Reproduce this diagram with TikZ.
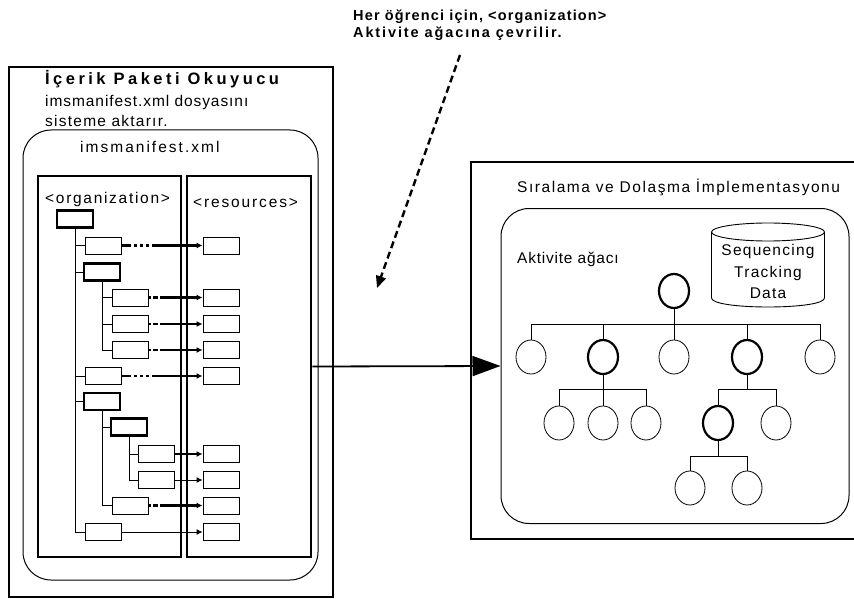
\documentclass[tikz,border=0pt]{standalone}
\usepackage{fontspec}
\setmainfont{Liberation Sans}
\usetikzlibrary{arrows.meta,shapes.geometric}
\newcommand\lsp[1]{\addfontfeatures{LetterSpace=#1}}
\begin{document}
\begin{tikzpicture}[x=1pt,y=-1pt,
 every node/.style={inner sep=0pt},
 txt/.style={anchor=base west, font=\fontsize{15.5}{18}\selectfont},
 ctxt/.style={anchor=base, font=\fontsize{15.5}{18}\selectfont},
 note/.style={anchor=base west, font=\fontsize{14.5}{17}\selectfont\bfseries},
 frame/.style={draw, line width=1.1pt},
 rbox/.style={draw, line width=1pt, rounded corners=28pt},
 thickbox/.style={draw, line width=2.6pt},
 leaf/.style={draw, line width=0.9pt, minimum width=36pt, minimum height=17pt},
 bleaf/.style={leaf, line width=2.3pt},
 tree/.style={line width=0.9pt},
 link/.style={line width=2.3pt, -{Latex[length=6pt,width=6pt]}, dash pattern=on 3pt off 2pt on 5pt off 2pt on 200pt off 1pt},
 dotlink/.style={line width=2.3pt, -{Latex[length=6pt,width=6pt]}, dash pattern=on 10pt off 3pt on 3pt off 3pt on 3pt off 3pt on 3pt off 3pt on 200pt off 1pt},
 thinlink/.style={line width=0.9pt, -{Latex[length=6pt,width=6pt]}},
 act/.style={draw, ellipse, line width=0.8pt, minimum width=30pt, minimum height=34pt},
 bact/.style={act, line width=2.2pt},
 bigarrow/.style={line width=1.8pt, -{Triangle[length=28pt,width=20pt]}},
 dasharrow/.style={line width=2.4pt, dash pattern=on 7pt off 4pt, -{Triangle[length=12pt,width=10pt]}}
]
\useasboundingbox (0,0) rectangle (854,599);

% top note
\node[note] (n1) at (353,21) {\lsp{8}Her öğrenci için, <organization>};
\node[note] (n2) at (353,38) {\lsp{13}Aktivite ağacına çevrilir.};
\coordinate (ds) at (460,55);
\coordinate (de) at (377,288);
\draw[dasharrow] (ds) -- (de);

% left part
\node[frame, minimum width=324pt, minimum height=530pt] (reader) at (171,332) {};
\node[txt, font=\fontsize{16.5}{18}\selectfont\bfseries] (title) at (45,85) {\lsp{21}İçerik Paketi Okuyucu};
\node[txt] (d1) at (45,107) {\lsp{6}imsmanifest.xml dosyasını};
\node[txt] (d2) at (45,127) {\lsp{8}sisteme aktarır.};
\node[rbox, minimum width=295pt, minimum height=450pt] (mfbox) at (170.5,355) {};
\node[txt] (mf) at (80,153) {\lsp{13}imsmanifest.xml};
\node[thickbox, minimum width=143pt, minimum height=381pt] (orgbox) at (109.5,366.5) {};
\node[thickbox, minimum width=124pt, minimum height=381pt] (resbox) at (249,366.5) {};
\node[txt] (orgl) at (45,203) {\lsp{11}<organization>};
\node[txt] (resl) at (193,207) {\lsp{12}<resources>};

% organization tree
\node[bleaf] (r) at (75,219) {};
\node[leaf] (c1) at (103,245.5) {};
\node[bleaf] (c2) at (102,272) {};
\node[leaf] (c21) at (130,297.5) {};
\node[leaf] (c22) at (130,324) {};
\node[leaf] (c23) at (130,350) {};
\node[leaf] (c3) at (103,376) {};
\node[bleaf] (c4) at (102,401.5) {};
\node[bleaf] (c41) at (129,427) {};
\node[leaf] (c411) at (156,454) {};
\node[leaf] (c412) at (156,480) {};
\node[leaf] (c42) at (130,505.5) {};
\node[leaf] (c5) at (103,532) {};
\foreach \c in {c1,c2,c3,c4,c5} \draw[tree] (r.south) |- (\c.west);
\foreach \c in {c21,c22,c23} \draw[tree] (c2.south) |- (\c.west);
\foreach \c in {c41,c42} \draw[tree] (c4.south) |- (\c.west);
\foreach \c in {c411,c412} \draw[tree] (c41.south) |- (\c.west);

% resources
\node[leaf] (s1) at (221,245.5) {};
\node[leaf] (s2) at (221,297.5) {};
\node[leaf] (s3) at (221,324) {};
\node[leaf] (s4) at (221,350) {};
\node[leaf] (s5) at (221,376) {};
\node[leaf] (s6) at (221,454) {};
\node[leaf] (s7) at (221,480) {};
\node[leaf] (s8) at (221,505.5) {};
\node[leaf] (s9) at (221,532) {};
\draw[dotlink] (c1.east) -- (s1.west);
\draw[link] (c21.east) -- (s2.west);
\draw[link] (c22.east) -- (s3.west);
\draw[link] (c23.east) -- (s4.west);
\draw[dotlink] (c3.east) -- (s5.west);
\draw[link, dash pattern=on 200pt off 1pt] (c411.east) -- (s6.west);
\draw[thinlink] (c412.east) -- (s7.west);
\draw[link] (c42.east) -- (s8.west);
\draw[thinlink] (c5.east) -- (s9.west);

% right part
\draw[frame] (854,162) -- (471,162) -- (471,539) -- (854,539);
\node[txt] (impl) at (517,192) {\lsp{10}Sıralama ve Dolaşma İmplementasyonu};
\node[rbox, minimum width=348pt, minimum height=315pt] (actbox) at (675,366) {};
\node[txt] (akt) at (517,263) {\lsp{5}Aktivite ağacı};

% cylinder
\draw[line width=0.9pt] (768,232) ellipse [x radius=56.5pt, y radius=9pt];
\draw[line width=0.9pt] (711.5,232) -- (711.5,298) .. controls (711.5,310) and (824.5,310) .. (824.5,298) -- (824.5,232);
\node[ctxt] (seq) at (768,255) {\lsp{8}Sequencing};
\node[ctxt] (trk) at (768,277) {\lsp{8}Tracking};
\node[ctxt] (dat) at (768,298) {\lsp{8}Data};

% activity tree
\node[bact] (a0) at (674,291) {};
\node[act] (a1) at (531,357) {};
\node[bact] (a2) at (603,357) {};
\node[act] (a3) at (674,357) {};
\node[bact] (a4) at (747,357) {};
\node[act] (a5) at (820,357) {};
\node[act] (a21) at (559,423) {};
\node[act] (a22) at (603,423) {};
\node[act] (a23) at (646,423) {};
\node[bact] (a41) at (718,423) {};
\node[act] (a42) at (776,423) {};
\node[act] (a411) at (690,488) {};
\node[act] (a412) at (747,488) {};
\coordinate (b0) at (674,324);
\coordinate (b2) at (603,389);
\coordinate (b4) at (747,389);
\coordinate (b41) at (718,456);
\draw[tree] (a0.south) -- (b0);
\foreach \c in {a1,a2,a3,a4,a5} \draw[tree] (\c.north) |- (b0);
\draw[tree] (a2.south) -- (b2);
\foreach \c in {a21,a22,a23} \draw[tree] (\c.north) |- (b2);
\draw[tree] (a4.south) -- (b4);
\foreach \c in {a41,a42} \draw[tree] (\c.north) |- (b4);
\draw[tree] (a41.south) -- (b41);
\foreach \c in {a411,a412} \draw[tree] (\c.north) |- (b41);

% main arrow
\draw[bigarrow] (resbox.east) -- (actbox.west);
\end{tikzpicture}
\end{document}
